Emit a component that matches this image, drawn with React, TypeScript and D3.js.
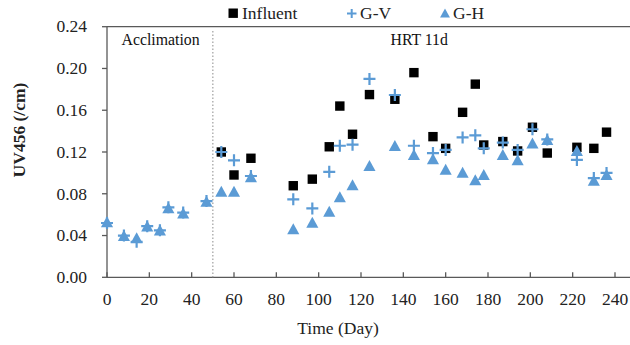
import React from "react";
import * as d3 from "d3";

const influentDays = [54, 60, 68, 88, 97, 105, 110, 116, 124, 136, 145, 154, 160, 168, 174, 178, 187, 194, 201, 208, 222, 230, 236];
const influentValues = [0.120, 0.098, 0.114, 0.0877, 0.094, 0.125, 0.164, 0.137, 0.175, 0.1705, 0.196, 0.1347, 0.1235, 0.158, 0.185, 0.1267, 0.130, 0.121, 0.1437, 0.119, 0.1245, 0.1235, 0.139];

const gvDays = [0, 8, 14, 19, 25, 29, 36, 47, 54, 60, 68, 88, 97, 105, 110, 116, 124, 136, 145, 154, 160, 168, 174, 178, 187, 194, 201, 208, 222, 230, 236];
const gvValues = [0.052, 0.040, 0.034, 0.049, 0.045, 0.067, 0.062, 0.073, 0.120, 0.112, 0.097, 0.0747, 0.066, 0.101, 0.126, 0.127, 0.190, 0.1746, 0.126, 0.119, 0.122, 0.134, 0.136, 0.1235, 0.129, 0.122, 0.1418, 0.132, 0.1124, 0.095, 0.100];

const ghDays = [0, 8, 14, 19, 25, 29, 36, 47, 54, 60, 68, 88, 97, 105, 110, 116, 124, 136, 145, 154, 160, 168, 174, 178, 187, 194, 201, 208, 222, 230, 236];
const ghValues = [0.0527, 0.0396, 0.0373, 0.0485, 0.0447, 0.066, 0.061, 0.0724, 0.082, 0.082, 0.0958, 0.046, 0.0523, 0.0628, 0.0766, 0.088, 0.1066, 0.1258, 0.117, 0.113, 0.103, 0.100, 0.093, 0.098, 0.117, 0.112, 0.128, 0.1315, 0.121, 0.0925, 0.098];

const xTicks = [0, 20, 40, 60, 80, 100, 120, 140, 160, 180, 200, 220, 240];
const yTicks = [0, 0.04, 0.08, 0.12, 0.16, 0.2, 0.24];
const dividerDay = 50;

const BLUE = "#5B9BD5";
const AXIS = "#595959";
const FONT = "Liberation Serif, Times New Roman, serif";
const tStyle = { fontFamily: FONT };

export default function App() {
  const x = d3.scaleLinear().domain([0, 240]).range([107, 615]);
  const y = d3.scaleLinear().domain([0, 0.24]).range([277.3, 26.7]);
  const x0 = 107;
  const xEnd = 630;

  const triPath = (s: number) => `M0,${-s * 0.55}L${s * 0.55},${s * 0.45}L${-s * 0.55},${s * 0.45}Z`;

  return (
    <svg
      width={630}
      height={345}
      style={{ position: "absolute", left: 0, top: 0, background: "#fff", fontFamily: FONT }}
    >
      <rect width={630} height={345} fill="#fff" />
      <line x1={x0} x2={xEnd} y1={y(0.24)} y2={y(0.24)} stroke={AXIS} strokeWidth={1.3} />
      <line x1={x0} x2={xEnd} y1={y(0)} y2={y(0)} stroke={AXIS} strokeWidth={1.3} />
      <line x1={x0} x2={x0} y1={y(0)} y2={y(0.24)} stroke={AXIS} strokeWidth={1.3} />
      {yTicks.map((t) => (
        <g key={"y" + t}>
          <line x1={x0 - 5} x2={x0} y1={y(t)} y2={y(t)} stroke={AXIS} strokeWidth={1.3} />
          <text style={tStyle} x={87} y={y(t)} dy="0.33em" textAnchor="end" fontSize={17.5} fill="#222">
            {t.toFixed(2)}
          </text>
        </g>
      ))}
      {xTicks.map((t) => (
        <g key={"x" + t}>
          <line x1={x(t)} x2={x(t)} y1={y(0)} y2={y(0) - 5} stroke={AXIS} strokeWidth={1.3} />
          <text style={tStyle} x={x(t)} y={305} textAnchor="middle" fontSize={17.5} fill="#222">
            {t}
          </text>
        </g>
      ))}
      <line
        x1={x(dividerDay)}
        x2={x(dividerDay)}
        y1={31}
        y2={y(0)}
        stroke="#a6a6a6"
        strokeWidth={1.3}
        strokeDasharray="1.5,2"
      />
      <text style={tStyle} x={121.5} y={45} fontSize={15.8} fill="#111">Acclimation</text>
      <text style={tStyle} x={390.5} y={45} fontSize={15.8} fill="#111">HRT 11d</text>

      <text style={tStyle} x={338} y={334} textAnchor="middle" fontSize={17.5} fill="#222">Time (Day)</text>
      <text
        style={tStyle}
        transform={`translate(25,${130}) rotate(-90)`}
        textAnchor="middle"
        fontSize={17.5}
        fontWeight="bold"
        fill="#222"
      >
        UV456 (/cm)
      </text>

      {influentDays.map((d, i) => (
        <rect key={"i" + i} x={x(d) - 4.7} y={y(influentValues[i]) - 4.7} width={9.4} height={9.4} fill="#000" />
      ))}
      {gvDays.map((d, i) => (
        <path
          key={"v" + i}
          d={`M${x(d) - 6},${y(gvValues[i])}H${x(d) + 6}M${x(d)},${y(gvValues[i]) - 6}V${y(gvValues[i]) + 6}`}
          stroke={BLUE}
          strokeWidth={2.2}
          fill="none"
        />
      ))}
      {ghDays.map((d, i) => (
        <path key={"h" + i} transform={`translate(${x(d)},${y(ghValues[i])})`} d={triPath(11)} fill={BLUE} />
      ))}

      <rect x={228.5} y={8.5} width={9.4} height={9.4} fill="#000" />
      <text style={tStyle} x={242} y={18.5} fontSize={17.5} fill="#222">Influent</text>
      <path d="M347,13.5H356.5M351.7,9V18" stroke={BLUE} strokeWidth={2} fill="none" />
      <text style={tStyle} x={360} y={18.5} fontSize={17.5} fill="#222">G-V</text>
      <path transform="translate(445,13.5)" d={triPath(9)} fill={BLUE} />
      <text style={tStyle} x={453} y={18.5} fontSize={17.5} fill="#222">G-H</text>
    </svg>
  );
}
